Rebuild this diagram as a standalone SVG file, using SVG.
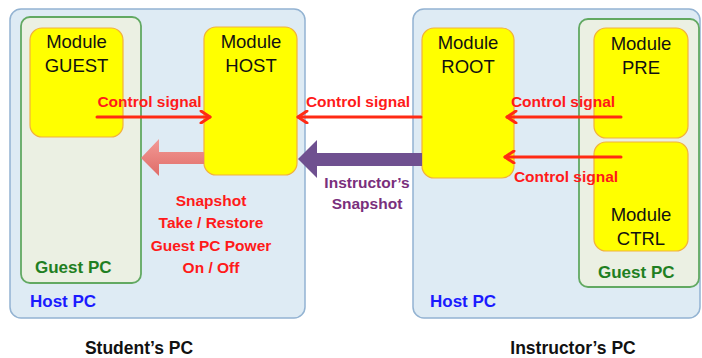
<svg xmlns="http://www.w3.org/2000/svg" width="702" height="358" viewBox="0 0 702 358">
<defs>
<style>
.host{fill:#deebf4;stroke:#93b3d2;stroke-width:1.5}
.guest{fill:#ebf0e3;stroke:#62a962;stroke-width:1.8}
.mod{fill:#ffff00;stroke:#f2b13c;stroke-width:1.2}
.mt{font-family:"Liberation Sans",Arial,sans-serif;font-size:18.5px;fill:#111;text-anchor:middle}
.b{font-family:"Liberation Sans",Arial,sans-serif;font-weight:bold}
.hl{font-size:17px;fill:#1a1aff}
.gl{font-size:17px;fill:#1f7f22}
.cs{font-size:15.5px;fill:#ff1a1a;text-anchor:middle}
.sig{stroke:#ff2a14;stroke-width:3;fill:none;stroke-linecap:round}
.cap{font-size:17.5px;fill:#111;text-anchor:middle}
</style>
<marker id="ah" markerWidth="14" markerHeight="14" refX="11" refY="7" orient="auto" markerUnits="userSpaceOnUse">
<path d="M2,1 L11,7 L2,13" fill="none" stroke="#ff2a14" stroke-width="3" stroke-linecap="round" stroke-linejoin="round"/>
</marker>
<linearGradient id="pk" x1="0" y1="0" x2="0" y2="1">
<stop offset="0" stop-color="#f29a96"/>
<stop offset="1" stop-color="#e06c68"/>
</linearGradient>
</defs>

<g id="student-host">
<rect class="host" x="10" y="9" width="295" height="309" rx="11"/>
<text class="b hl" x="30" y="307">Host PC</text>
</g>
<g id="student-guest">
<rect class="guest" x="21" y="17" width="120" height="266" rx="9"/>
<text class="b gl" x="35" y="273">Guest PC</text>
</g>
<g id="module-guest">
<rect class="mod" x="30" y="28" width="93" height="109" rx="12"/>
<text class="mt" x="76.5" y="48">Module</text>
<text class="mt" x="76.5" y="72">GUEST</text>
</g>
<g id="module-host">
<rect class="mod" x="204" y="27" width="93" height="148" rx="12"/>
<text class="mt" x="251" y="48">Module</text>
<text class="mt" x="251" y="72">HOST</text>
</g>

<g id="instructor-host">
<rect class="host" x="413" y="9" width="287" height="309" rx="11"/>
<text class="b hl" x="430" y="307">Host PC</text>
</g>
<g id="instructor-guest">
<rect class="guest" x="579" y="19" width="120" height="268" rx="9"/>
<text class="b gl" x="598" y="278">Guest PC</text>
</g>
<g id="module-root">
<rect class="mod" x="422" y="28" width="92" height="150" rx="12"/>
<text class="mt" x="468" y="49">Module</text>
<text class="mt" x="468" y="73">ROOT</text>
</g>
<g id="module-pre">
<rect class="mod" x="594" y="28" width="94" height="110" rx="12"/>
<text class="mt" x="641" y="50">Module</text>
<text class="mt" x="641" y="74">PRE</text>
</g>
<g id="module-ctrl">
<rect class="mod" x="594" y="142" width="94" height="109" rx="12"/>
<text class="mt" x="641" y="221">Module</text>
<text class="mt" x="641" y="245">CTRL</text>
</g>

<g id="connectors">
<polygon points="141,158 159,139 159,152 204,152 204,164 159,164 159,176" fill="url(#pk)"/>
<polygon points="298,159 317,140 317,153 422,153 422,166 317,166 317,178" fill="#6f5090"/>

<line class="sig" x1="97" y1="117" x2="210" y2="117" marker-end="url(#ah)"/>
<line class="sig" x1="421" y1="117" x2="298" y2="117" marker-end="url(#ah)"/>
<line class="sig" x1="621" y1="117" x2="507" y2="117" marker-end="url(#ah)"/>
<line class="sig" x1="621" y1="157" x2="505" y2="157" marker-end="url(#ah)"/>

<text class="b cs" x="149.5" y="107">Control signal</text>
<text class="b cs" x="358" y="107">Control signal</text>
<text class="b cs" x="563" y="107">Control signal</text>
<text class="b cs" x="566" y="182">Control signal</text>

<g class="b cs">
<text x="211" y="206">Snapshot</text>
<text x="211" y="228">Take / Restore</text>
<text x="211" y="251">Guest PC Power</text>
<text x="211" y="273">On / Off</text>
</g>
<g class="b" style="font-size:15.5px;fill:#7a2f7c;text-anchor:middle">
<text x="367" y="188">Instructor’s</text>
<text x="367" y="209">Snapshot</text>
</g>
</g>

<text class="b cap" x="139" y="354">Student’s PC</text>
<text class="b cap" x="573" y="354">Instructor’s PC</text>
</svg>
